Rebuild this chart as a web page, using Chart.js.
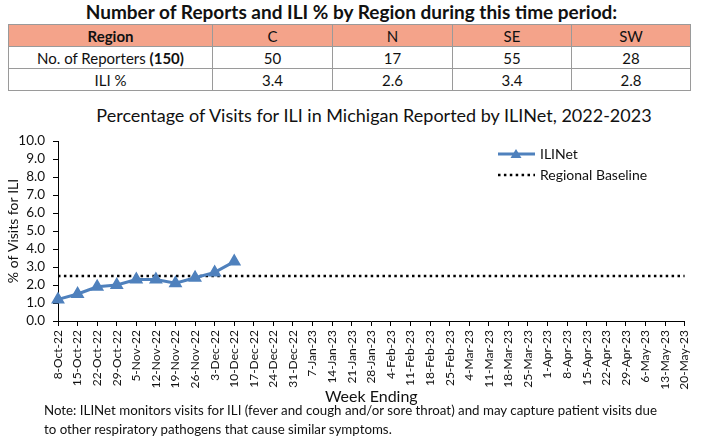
<!DOCTYPE html>
<html>
<head>
<meta charset="utf-8">
<script src="https://cdn.jsdelivr.net/npm/chart.js@4.4.0/dist/chart.umd.min.js"></script>
<style>
    body { margin: 0; width: 703px; height: 447px; background: #fff; font-family: Lato, "Open Sans", sans-serif; color: #111; overflow: hidden; position: relative; }
    #tableTitle { position: absolute; left: 0; top: 0; width: 703px; text-align: center; font-weight: bold; font-size: 19px; }
    table { position: absolute; left: 8px; top: 24px; border-collapse: collapse; font-size: 15px; }
    td, th { border: 1px solid #9a9a9a; height: 21px; padding: 0; text-align: center; font-weight: normal; }
    th { background: #f4a38a; }
    th.first { font-weight: bold; }
    #chartTitle { position: absolute; left: 74px; top: 104px; width: 600px; text-align: center; font-size: 18px; }
    #chartBox { position: absolute; left: 0; top: 100px; width: 703px; height: 310px; }
    #note { position: absolute; left: 44px; top: 401px; font-size: 13.3px; line-height: 19px; width: 660px; }
</style>
</head>
<body>
<div id="tableTitle">Number of Reports and ILI % by Region during this time period:</div>
<table id="regionTable"></table>
<div id="chartTitle">Percentage of Visits for ILI in Michigan Reported by ILINet, 2022-2023</div>
<div id="chartBox"><canvas id="iliChart"></canvas></div>
<div id="note">Note: ILINet monitors visits for ILI (fever and cough and/or sore throat) and may capture patient visits due<br>to other respiratory pathogens that cause similar symptoms.</div>

<script>
// بيانات الجدول
const regions = ['C', 'N', 'SE', 'SW'];
const reporters = [50, 17, 55, 28];
const regionIli = ['3.4', '2.6', '3.4', '2.8'];
const totalReporters = 150;

// بيانات الرسم
const weeks = ['8-Oct-22', '15-Oct-22', '22-Oct-22', '29-Oct-22', '5-Nov-22', '12-Nov-22', '19-Nov-22', '26-Nov-22',
    '3-Dec-22', '10-Dec-22', '17-Dec-22', '24-Dec-22', '31-Dec-22', '7-Jan-23', '14-Jan-23', '21-Jan-23', '28-Jan-23',
    '4-Feb-23', '11-Feb-23', '18-Feb-23', '25-Feb-23', '4-Mar-23', '11-Mar-23', '18-Mar-23', '25-Mar-23',
    '1-Apr-23', '8-Apr-23', '15-Apr-23', '22-Apr-23', '29-Apr-23', '6-May-23', '13-May-23', '20-May-23'];
const iliNet = [1.2, 1.5, 1.9, 2.0, 2.3, 2.3, 2.1, 2.4, 2.7, 3.3];
const baselineValue = 2.5;
const yTicks = [0, 1, 2, 3, 4, 5, 6, 7, 8, 9, 10];

const blue = '#4f81bd';
const font = 'Lato, "Open Sans", sans-serif';
const colWidths = [203, 119, 119, 118, 118];

// بناء الجدول
const tbl = document.getElementById('regionTable');
tbl.innerHTML = `
    <tr><th class="first" style="width:${colWidths[0]}px">Region</th>${regions.map((r, i) => `<th style="width:${colWidths[i + 1]}px">${r}</th>`).join('')}</tr>
    <tr><td>No. of Reporters <b>(${totalReporters})</b></td>${reporters.map(v => `<td>${v}</td>`).join('')}</tr>
    <tr><td>ILI %</td>${regionIli.map(v => `<td>${v}</td>`).join('')}</tr>
`;

// أسطورة داخل منطقة الرسم
const insideLegend = {
    id: 'insideLegend',
    afterDraw(chart) {
        const ctx = chart.ctx;
        const x0 = 498, x1 = 535;
        ctx.save();
        ctx.strokeStyle = blue;
        ctx.lineWidth = 3;
        ctx.beginPath(); ctx.moveTo(x0, 54); ctx.lineTo(x1, 54); ctx.stroke();
        ctx.fillStyle = blue;
        ctx.beginPath(); ctx.moveTo(516, 49); ctx.lineTo(521.5, 58); ctx.lineTo(510.5, 58); ctx.closePath(); ctx.fill();
        ctx.strokeStyle = '#000';
        ctx.lineWidth = 2.5;
        ctx.setLineDash([2.5, 3.4]);
        ctx.beginPath(); ctx.moveTo(x0, 75); ctx.lineTo(x1, 75); ctx.stroke();
        ctx.setLineDash([]);
        ctx.fillStyle = '#111';
        ctx.font = '14px ' + font;
        ctx.textBaseline = 'middle';
        ctx.fillText('ILINet', 540, 54);
        ctx.fillText('Regional Baseline', 540, 75);
        ctx.restore();
    }
};

new Chart(document.getElementById('iliChart'), {
    type: 'line',
    data: {
        labels: weeks,
        datasets: [{
            label: 'ILINet',
            data: iliNet,
            borderColor: blue,
            backgroundColor: blue,
            borderWidth: 3,
            pointStyle: 'triangle',
            pointRadius: 5,
            pointHoverRadius: 5,
            tension: 0
        }, {
            label: 'Regional Baseline',
            data: [{ x: weeks[0], y: baselineValue }, { x: weeks[weeks.length - 1], y: baselineValue }],
            borderColor: '#000',
            borderWidth: 2.5,
            borderDash: [2.5, 3.4],
            pointRadius: 0,
            tension: 0
        }]
    },
    options: {
        responsive: true,
        maintainAspectRatio: false,
        animation: false,
        layout: { padding: { left: 0, right: 9, top: 41, bottom: 0 } },
        plugins: {
            legend: { display: false },
            tooltip: { enabled: false },
            title: { display: false }
        },
        scales: {
            x: {
                offset: false,
                grid: { drawOnChartArea: false, offset: false, color: '#000', tickLength: 5 },
                border: { color: '#000', width: 1 },
                ticks: {
                    autoSkip: false, maxRotation: 90, minRotation: 90, padding: 4, color: '#111',
                    font: { family: font, size: 12 }
                },
                title: {
                    display: true, text: 'Week Ending', color: '#111',
                    font: { family: font, size: 16 },
                    padding: { top: 0, bottom: 4 }
                },
                afterFit: (scale) => { scale.height = 89; }
            },
            y: {
                min: 0, max: 10,
                afterBuildTicks: (scale) => { scale.ticks = yTicks.map(v => ({ value: v })); },
                grid: { drawOnChartArea: false, color: '#000', tickLength: 5 },
                border: { color: '#000', width: 1 },
                ticks: {
                    autoSkip: false, padding: 8, color: '#111',
                    font: { family: font, size: 13.5 },
                    callback: (v) => Number(v).toFixed(1)
                },
                title: {
                    display: true, text: '% of Visits for ILI', color: '#111',
                    font: { family: font, size: 14 },
                    padding: { top: 5, bottom: 0 }
                },
                afterFit: (scale) => { scale.width = 58; }
            }
        }
    },
    plugins: [insideLegend]
});
</script>
</body>
</html>
